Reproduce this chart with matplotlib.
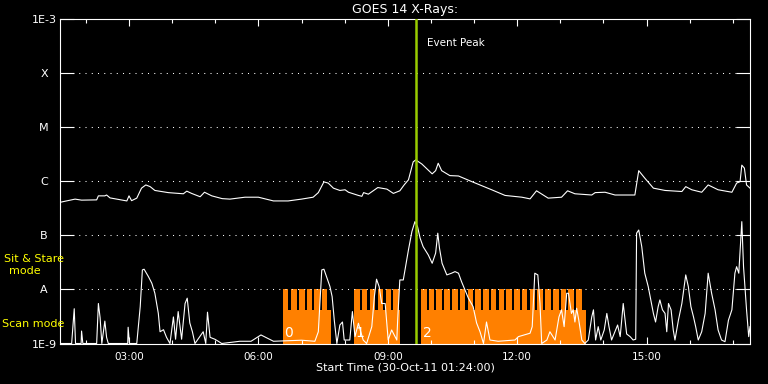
import matplotlib
matplotlib.use('Agg')
import matplotlib.pyplot as plt
from matplotlib.ticker import FixedLocator, NullLocator
import matplotlib.transforms as mtransforms

# time in hours (UT) on 30-Oct-11, flux in W/m^2
long_t = [1.40, 1.55, 1.75, 1.90, 2.25, 2.29, 2.44, 2.48, 2.56, 2.95, 3.00, 3.06, 3.18, 3.29, 3.39,
          3.49, 3.60, 3.91, 4.26, 4.34, 4.45, 4.65, 4.75, 4.92, 5.16, 5.34, 5.69, 6.00, 6.35, 6.69,
          7.00, 7.27, 7.39, 7.52, 7.62, 7.74, 7.89, 8.01, 8.09, 8.32, 8.40, 8.44, 8.55, 8.77, 8.98,
          9.13, 9.28, 9.38, 9.48, 9.59, 9.65, 9.79, 10.03, 10.11, 10.17, 10.25, 10.44, 10.64, 10.95,
          11.41, 11.72, 12.11, 12.30, 12.45, 12.72, 13.03, 13.17, 13.34, 13.73, 13.81, 14.04, 14.27,
          14.73, 14.82, 14.96, 15.16, 15.43, 15.82, 15.91, 16.05, 16.28, 16.43, 16.66, 16.98, 17.09,
          17.17, 17.21, 17.27, 17.32, 17.40]
long_flux = [4.1e-7, 4.35e-7, 4.7e-7, 4.5e-7, 4.55e-7, 5.4e-7, 5.4e-7, 5.6e-7, 4.95e-7, 4.35e-7,
             5.4e-7, 4.4e-7, 4.9e-7, 7.5e-7, 8.6e-7, 8.0e-7, 6.8e-7, 6.2e-7, 5.9e-7, 6.6e-7, 6.0e-7,
             5.2e-7, 6.3e-7, 5.4e-7, 4.8e-7, 4.7e-7, 5.1e-7, 5.1e-7, 4.35e-7, 4.35e-7, 4.7e-7, 5.1e-7,
             6.2e-7, 9.8e-7, 9.3e-7, 7.5e-7, 6.8e-7, 7.0e-7, 6.3e-7, 5.5e-7, 5.3e-7, 6.2e-7, 5.8e-7,
             7.7e-7, 7.2e-7, 6.0e-7, 6.7e-7, 8.6e-7, 1.07e-6, 2.3e-6, 2.5e-6, 2.1e-6, 1.38e-6, 1.58e-6,
             2.17e-6, 1.58e-6, 1.28e-6, 1.26e-6, 9.9e-7, 7.0e-7, 5.5e-7, 5.1e-7, 4.75e-7, 6.7e-7,
             4.9e-7, 5.1e-7, 6.7e-7, 5.9e-7, 5.6e-7, 6.2e-7, 6.3e-7, 5.6e-7, 5.6e-7, 1.58e-6, 1.15e-6,
             7.5e-7, 6.8e-7, 6.5e-7, 8.0e-7, 7.0e-7, 6.3e-7, 8.6e-7, 7.0e-7, 6.3e-7, 9.3e-7, 9.9e-7,
             2.0e-6, 1.76e-6, 8.6e-7, 7.5e-7]

short_t = [1.40, 1.67, 1.73, 1.76, 1.89, 1.90, 1.93, 2.25, 2.29, 2.33, 2.37, 2.44, 2.48, 2.52, 2.97,
           2.98, 3.01, 3.18, 3.26, 3.31, 3.35, 3.45, 3.53, 3.60, 3.68, 3.72, 3.80, 3.87, 3.95, 4.03,
           4.08, 4.14, 4.22, 4.30, 4.35, 4.41, 4.47, 4.53, 4.72, 4.78, 4.82, 4.88, 4.99, 5.07, 5.15,
           5.57, 5.83, 6.00, 6.06, 6.35, 7.00, 7.31, 7.39, 7.47, 7.52, 7.58, 7.66, 7.71, 7.76, 7.82,
           7.89, 7.95, 7.99, 8.12, 8.18, 8.24, 8.32, 8.36, 8.43, 8.51, 8.63, 8.69, 8.74, 8.80, 8.86,
           8.94, 9.01, 9.09, 9.21, 9.23, 9.28, 9.36, 9.48, 9.56, 9.63, 9.69, 9.75, 9.82, 9.94, 10.03,
           10.11, 10.16, 10.20, 10.26, 10.37, 10.48, 10.56, 10.64, 10.71, 10.79, 10.87, 10.98, 11.06,
           11.14, 11.22, 11.29, 11.37, 11.56, 11.95, 12.03, 12.30, 12.35, 12.41, 12.48, 12.53, 12.57,
           12.69, 12.76, 12.88, 12.97, 13.03, 13.09, 13.15, 13.19, 13.26, 13.30, 13.34, 13.38, 13.43,
           13.50, 13.57, 13.65, 13.73, 13.77, 13.82, 13.88, 13.94, 14.02, 14.08, 14.13, 14.19, 14.33,
           14.39, 14.46, 14.54, 14.62, 14.69, 14.75, 14.77, 14.82, 14.89, 14.96, 15.04, 15.10, 15.16,
           15.21, 15.27, 15.31, 15.37, 15.43, 15.47, 15.51, 15.57, 15.62, 15.66, 15.74, 15.82, 15.91,
           15.97, 16.03, 16.09, 16.14, 16.20, 16.28, 16.36, 16.43, 16.51, 16.59, 16.66, 16.74, 16.82,
           16.90, 16.98, 17.05, 17.09, 17.14, 17.21, 17.25, 17.32, 17.37, 17.40]
short_flux = [1.0e-9, 1.0e-9, 4.4e-9, 1.0e-9, 1.0e-9, 1.7e-9, 1.0e-9, 1.0e-9, 5.5e-9, 3.0e-9, 1.0e-9,
              2.6e-9, 1.3e-9, 1.0e-9, 1.0e-9, 2.0e-9, 1.0e-9, 1.0e-9, 4.8e-9, 2.3e-8, 2.37e-8, 1.73e-8,
              1.3e-8, 8.5e-9, 3.6e-9, 1.65e-9, 1.8e-9, 1.3e-9, 1.0e-9, 3.1e-9, 1.2e-9, 3.9e-9, 1.2e-9,
              5.5e-9, 6.9e-9, 2.4e-9, 1.65e-9, 1.0e-9, 1.65e-9, 1.0e-9, 3.8e-9, 1.3e-9, 1.2e-9, 1.1e-9,
              1.0e-9, 1.1e-9, 1.1e-9, 1.34e-9, 1.44e-9, 1.1e-9, 1.15e-9, 1.1e-9, 1.65e-9, 2.3e-8,
              2.37e-8, 1.73e-8, 1.13e-8, 7.4e-9, 2.7e-9, 1.0e-9, 2.2e-9, 2.5e-9, 1.16e-9, 1.16e-9,
              3.9e-9, 1.34e-9, 2.37e-9, 1.8e-9, 1.16e-9, 1.0e-9, 2.05e-9, 7.4e-9, 1.55e-8, 1.13e-8,
              5.5e-9, 5.5e-9, 1.16e-9, 1.78e-9, 1.16e-9, 2.7e-9, 1.5e-8, 1.5e-8, 5.4e-8, 1.18e-7, 1.8e-7,
              1.46e-7, 8.9e-8, 6.2e-8, 4.35e-8, 3.05e-8, 4.7e-8, 1.1e-7, 5.8e-8, 3.05e-8, 1.86e-8, 2.0e-8,
              2.14e-8, 2.0e-8, 1.4e-8, 9.8e-9, 6.9e-9, 4.8e-9, 2.4e-9, 1.65e-9, 1.0e-9, 2.5e-9, 1.16e-9,
              1.1e-9, 1.16e-9, 1.34e-9, 1.55e-9, 2.05e-9, 2.0e-8, 1.86e-8, 5.5e-9, 1.0e-9, 1.16e-9,
              1.65e-9, 1.16e-9, 3.1e-9, 4.2e-9, 2.05e-9, 8.5e-9, 8.5e-9, 3.6e-9, 4.2e-9, 2.5e-9, 4.5e-9,
              2.7e-9, 1.16e-9, 1.0e-9, 1.16e-9, 3.1e-9, 4.2e-9, 1.16e-9, 2.05e-9, 1.16e-9, 1.78e-9,
              3.6e-9, 2.05e-9, 1.16e-9, 2.2e-9, 1.34e-9, 5.5e-9, 1.5e-9, 1.34e-9, 1.16e-9, 1.2e-9,
              1.1e-7, 1.26e-7, 6.2e-8, 2.0e-8, 1.13e-8, 6.4e-9, 3.6e-9, 2.5e-9, 4.8e-9, 6.4e-9, 4.2e-9,
              3.6e-9, 1.65e-9, 5.5e-9, 4.2e-9, 1.78e-9, 1.16e-9, 2.7e-9, 5.5e-9, 1.86e-8, 1.13e-8,
              4.8e-9, 3.1e-9, 2.05e-9, 1.16e-9, 1.65e-9, 3.6e-9, 2.0e-8, 8.5e-9, 4.2e-9, 1.78e-9,
              1.16e-9, 1.08e-9, 2.7e-9, 4.2e-9, 2.0e-8, 2.64e-8, 2.0e-8, 1.8e-7, 2.64e-8, 4.2e-9,
              1.34e-9, 2.05e-9]

# observing mode segments (orange): scan mode with sit & stare dwells (teeth)
seg_start = [6.56, 8.22, 9.77]
seg_end = [7.68, 9.28, 13.59]
seg_label = ['0', '1', '2']
dwell_start = [6.56, 6.76, 6.94, 7.12, 7.30, 7.47,
               8.22, 8.40, 8.58, 8.77, 8.95, 9.13,
               9.77, 9.95, 10.13, 10.31, 10.49, 10.67, 10.85, 11.03, 11.21, 11.39, 11.57,
               11.75, 11.93, 12.11, 12.29, 12.47, 12.65, 12.83, 13.01, 13.19, 13.37]
dwell_len = 0.13
scan_level = 4.2e-9
stare_level = 1.0e-8
floor = 1.0e-9

event_peak = 9.65

ytick_vals = [1e-9, 1e-8, 1e-7, 1e-6, 1e-5, 1e-4, 1e-3]
ytick_labels = ['1E-9', 'A', 'B', 'C', 'M', 'X', '1E-3']
grid_levels = [1e-8, 1e-7, 1e-6, 1e-5, 1e-4]
xtick_hours = [3, 6, 9, 12, 15]
xtick_labels = ['03:00', '06:00', '09:00', '12:00', '15:00']
xminor_hours = list(range(2, 18))

orange = '#ff8000'
fig = plt.figure(figsize=(7.68, 3.84), dpi=100, facecolor='black')
ax = fig.add_axes([60 / 768, 40.5 / 384, 690 / 768, 324.2 / 384])
ax.set_facecolor('black')
ax.set_yscale('log')
ax.set_xlim(1.4, 17.4)
ax.set_ylim(1e-9, 1e-3)

# mode bars
ax.bar(seg_start, [scan_level - floor] * 3, bottom=floor,
       width=[e - s for s, e in zip(seg_start, seg_end)], align='edge', color=orange, lw=0, zorder=1)
ax.bar(dwell_start, [stare_level - floor] * len(dwell_start), bottom=floor,
       width=dwell_len, align='edge', color=orange, lw=0, zorder=1)
for s, lab in zip(seg_start, seg_label):
    ax.text(s + 0.04, 1.55e-9, lab, color='white', fontsize=10, va='center', ha='left', zorder=5)

# dotted grid
for lev in grid_levels:
    ax.axhline(lev, color='white', lw=0.75, ls=(0, (1, 5)), zorder=2)

ax.plot(long_t, long_flux, color='white', lw=0.8, zorder=3)
ax.plot(short_t, short_flux, color='white', lw=0.8, zorder=3)

ax.axvline(event_peak, color='#99cc00', lw=1.8, zorder=4)
trans = mtransforms.blended_transform_factory(ax.transData, ax.transAxes)
ax.annotate('Event Peak', xy=(event_peak, 1), xycoords=trans, xytext=(8, -17),
            textcoords='offset points', color='white', fontsize=7.5, va='center', ha='left')

for sp in ax.spines.values():
    sp.set_color('white')
    sp.set_linewidth(0.8)

ax.yaxis.set_major_locator(FixedLocator(ytick_vals))
ax.yaxis.set_minor_locator(NullLocator())
ax.set_yticklabels(ytick_labels)
ax.tick_params(axis='y', which='major', direction='in', length=10, width=0.8, colors='white',
               left=True, right=True, labelsize=8, pad=11.5)
for lab in ax.get_yticklabels():
    lab.set_ha('center')

ax.xaxis.set_major_locator(FixedLocator(xtick_hours))
ax.xaxis.set_minor_locator(FixedLocator(xminor_hours))
ax.set_xticklabels(xtick_labels)
ax.tick_params(axis='x', which='major', direction='in', length=5, width=0.8, colors='white',
               top=True, bottom=True, labelsize=7.5, pad=6)
ax.tick_params(axis='x', which='minor', direction='in', length=3, width=0.8, colors='white',
               top=True, bottom=True)

ax.set_title('GOES 14 X-Rays:', color='white', fontsize=9, pad=4.5)
ax.set_xlabel('Start Time (30-Oct-11 01:24:00)', color='white', fontsize=8)
ax.xaxis.set_label_coords(0.5, -0.058)

fig.text(34.5 / 768, 1 - 259 / 384, 'Sit & Stare', color='yellow', fontsize=8, ha='center', va='center')
fig.text(24.5 / 768, 1 - 271 / 384, 'mode', color='yellow', fontsize=8, ha='center', va='center')
fig.text(2 / 768, 1 - 324 / 384, 'Scan mode', color='yellow', fontsize=8, ha='left', va='center')

fig.savefig('out.png', dpi=100, facecolor='black')
